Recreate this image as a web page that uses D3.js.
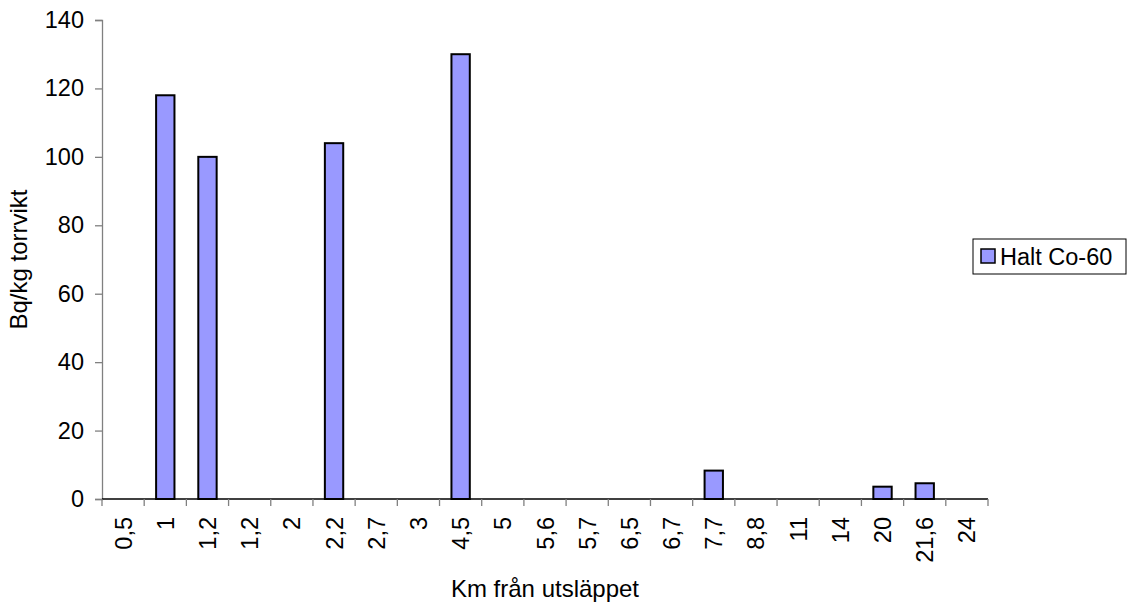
<!DOCTYPE html>
<html>
<head>
<meta charset="utf-8">
<script src="https://cdn.jsdelivr.net/npm/d3@7"></script>
<style>
  body { margin: 0; background: #fff; }
  svg { display: block; font-family: "Liberation Sans", Arial, sans-serif; }
</style>
</head>
<body>
<div id="chart"></div>
<script>
// --- Data ---
const distances = ['0,5', '1', '1,2', '1,2', '2', '2,2', '2,7', '3', '4,5', '5',
                   '5,6', '5,7', '6,5', '6,7', '7,7', '8,8', '11', '14', '20', '21,6', '24'];
const co60 = [0, 118, 100, 0, 0, 104, 0, 0, 130, 0,
              0, 0, 0, 0, 8.3, 0, 0, 0, 3.6, 4.6, 0];
const yTicks = [0, 20, 40, 60, 80, 100, 120, 140];
const seriesName = 'Halt Co-60';

const W = 1133, H = 607;
const plot = { left: 102, right: 988, top: 20, bottom: 499 };
const FONT = 23.5;

const svg = d3.select('#chart').append('svg')
    .attr('width', W)
    .attr('height', H);

// --- Scales ---
const x = d3.scaleBand()
    .domain(d3.range(distances.length))
    .range([plot.left, plot.right])
    .padding(0);

const y = d3.scaleLinear()
    .domain([0, 140])
    .range([plot.bottom, plot.top]);

// --- Bars ---
const barW = x.bandwidth() * 0.435;
svg.selectAll('.bar')
    .data(co60)
    .enter().append('rect')
    .attr('class', 'bar')
    .attr('x', (d, i) => x(i) + (x.bandwidth() - barW) / 2)
    .attr('y', d => y(d))
    .attr('width', barW)
    .attr('height', d => y(0) - y(d))
    .attr('fill', '#9999ff')
    .attr('stroke', '#000')
    .attr('stroke-width', 2)
    .style('display', d => d > 0 ? null : 'none');

// --- Y axis ---
const yAxis = svg.append('g')
    .attr('transform', `translate(${plot.left},0)`)
    .call(d3.axisLeft(y).tickValues(yTicks).tickSize(7).tickPadding(11));
yAxis.select('.domain').attr('stroke', '#808080').attr('stroke-width', 1.3);
yAxis.selectAll('.tick line').attr('stroke', '#808080').attr('stroke-width', 1.3);
yAxis.selectAll('.tick text')
    .attr('font-size', FONT)
    .attr('fill', '#000')
    .attr('font-family', '"Liberation Sans", Arial, sans-serif');

// --- X axis (ticks at category boundaries) ---
const xg = svg.append('g')
    .attr('transform', `translate(0,${plot.bottom})`);
xg.append('line')
    .attr('x1', plot.left).attr('x2', plot.right)
    .attr('stroke', '#000').attr('stroke-width', 1.5);
xg.selectAll('.xtick')
    .data(d3.range(distances.length + 1))
    .enter().append('line')
    .attr('x1', i => i < distances.length ? x(i) : plot.right)
    .attr('x2', i => i < distances.length ? x(i) : plot.right)
    .attr('y1', 0).attr('y2', 7)
    .attr('stroke', '#808080').attr('stroke-width', 1.3);
xg.selectAll('.xlabel')
    .data(distances)
    .enter().append('text')
    .attr('transform', (d, i) => `translate(${x(i) + x.bandwidth() / 2 + 8.5},18) rotate(-90)`)
    .attr('text-anchor', 'end')
    .attr('font-size', FONT)
    .attr('fill', '#000')
    .text(d => d);

// --- Axis titles ---
svg.append('text')
    .attr('x', (plot.left + plot.right) / 2)
    .attr('y', 597)
    .attr('text-anchor', 'middle')
    .attr('font-size', 24)
    .text('Km från utsläppet');

svg.append('text')
    .attr('transform', `translate(27,${(plot.top + plot.bottom) / 2}) rotate(-90)`)
    .attr('text-anchor', 'middle')
    .attr('font-size', 24)
    .text('Bq/kg torrvikt');

// --- Legend ---
const lg = svg.append('g').attr('transform', 'translate(973,239)');
lg.append('rect')
    .attr('width', 153).attr('height', 35)
    .attr('fill', '#fff')
    .attr('stroke', '#000').attr('stroke-width', 1);
lg.append('rect')
    .attr('x', 8).attr('y', 10)
    .attr('width', 14).attr('height', 14)
    .attr('fill', '#9999ff')
    .attr('stroke', '#000').attr('stroke-width', 1.5);
lg.append('text')
    .attr('x', 27).attr('y', 26)
    .attr('font-size', FONT)
    .text(seriesName);
</script>
</body>
</html>
